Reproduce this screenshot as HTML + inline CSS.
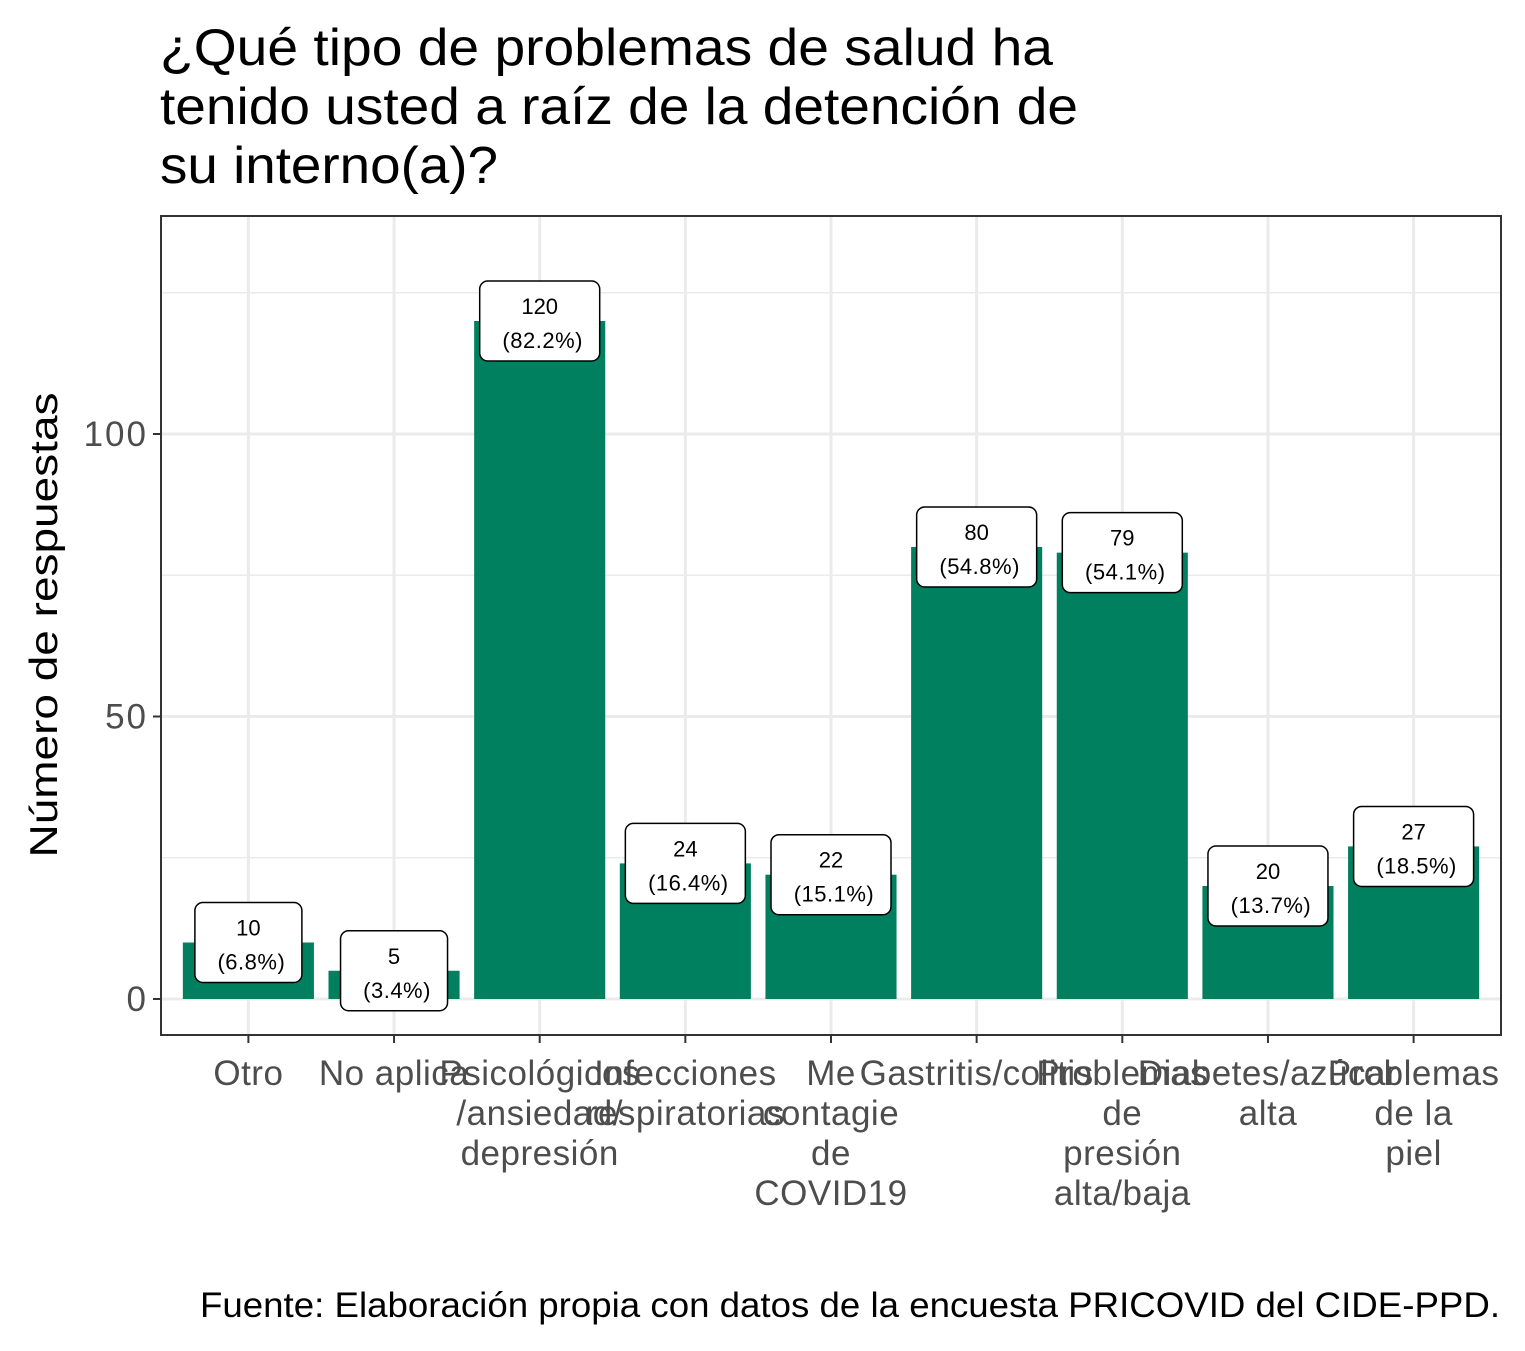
<!DOCTYPE html>
<html><head><meta charset="utf-8"><style>
body{margin:0;background:#fff;}
text{font-family:"Liberation Sans",Arial,sans-serif;}
</style></head><body>
<svg id="chart" width="1525" height="1346" xmlns="http://www.w3.org/2000/svg">
<g font-size="52" fill="#000">
<text x="160" y="65" textLength="893" lengthAdjust="spacingAndGlyphs">¿Qué tipo de problemas de salud ha</text>
<text x="160" y="124" textLength="918" lengthAdjust="spacingAndGlyphs">tenido usted a raíz de la detención de</text>
<text x="160" y="183" textLength="338" lengthAdjust="spacingAndGlyphs">su interno(a)?</text>
</g>
<rect x="161" y="216" width="1340" height="819" fill="#fff"/>
<g id="grid"></g>
<g id="bars"></g>
<rect x="161" y="216" width="1340" height="819" fill="none" stroke="#333" stroke-width="2"/>
<g id="axes"></g>
<text transform="translate(57,625) rotate(-90)" text-anchor="middle" font-size="39" fill="#000" textLength="465" lengthAdjust="spacingAndGlyphs">Número de respuestas</text>
<text x="1500" y="1317" text-anchor="end" font-size="35" fill="#000" textLength="1300" lengthAdjust="spacingAndGlyphs">Fuente: Elaboración propia con datos de la encuesta PRICOVID del CIDE-PPD.</text>
</svg>
<script>
const categories=[["Otro"],["No aplica"],["Psicológicos","/ansiedad/","depresión"],["Infecciones","respiratorias"],["Me","contagie","de","COVID19"],["Gastritis/colitis"],["Problemas","de","presión","alta/baja"],["Diabetes/azúcar","alta"],["Problemas","de la","piel"]];
const values=[10,5,120,24,22,80,79,20,27];
const percents=["6.8%","3.4%","82.2%","16.4%","15.1%","54.8%","54.1%","13.7%","18.5%"];
const majorTicks=[0,50,100];
const minorTicks=[25,75,125];
const NS="http://www.w3.org/2000/svg";
const x0=161,pw=1340,n=categories.length,step=pw/(n+0.2);
function xc(i){return x0+step*(0.6+i);}
function y(v){return 999-v*5.65;}
function mk(t,a,p){const e=document.createElementNS(NS,t);for(const k in a)e.setAttribute(k,a[k]);p.appendChild(e);return e;}
const grid=document.getElementById('grid'),bars=document.getElementById('bars'),axes=document.getElementById('axes');
minorTicks.forEach(v=>{const l=mk('line',{x1:161,x2:1501,y1:y(v),y2:y(v),stroke:'#ebebeb','stroke-width':1.5},grid);

});
majorTicks.forEach(v=>{const l=mk('line',{x1:161,x2:1501,y1:y(v),y2:y(v),stroke:'#ebebeb','stroke-width':3},grid);


const t=mk('text',{x:148,y:y(v)+12,'text-anchor':'end','font-size':35,'letter-spacing':2,fill:'#4d4d4d'},axes);t.textContent=v;


const tk=mk('line',{x1:153,x2:161,y1:y(v),y2:y(v),stroke:'#333','stroke-width':2},axes);

});
categories.forEach((c,i)=>{const cx=xc(i);
const g=mk('line',{x1:cx,x2:cx,y1:216,y2:1035,stroke:'#ebebeb','stroke-width':3},grid);


const bw=step*0.9;
const b=mk('rect',{x:cx-bw/2,y:y(values[i]),width:bw,height:999-y(values[i]),fill:'#00805e'},bars);


const s2='('+percents[i]+')';const w=Math.max(String(values[i]).length,s2.length)*13+29;
const by=y(values[i]);
const r=mk('rect',{x:cx-w/2,y:by-40,width:w,height:80,rx:8,fill:'#fff',stroke:'#000','stroke-width':1.5},bars);


const t1=mk('text',{x:cx,y:by-7,'text-anchor':'middle','font-size':22,fill:'#000'},bars);t1.textContent=values[i];


const t2=mk('text',{x:cx+3,y:by+27,'text-anchor':'middle','font-size':22,'letter-spacing':0.5,fill:'#000'},bars);t2.textContent=s2;


const tk=mk('line',{x1:cx,x2:cx,y1:1035,y2:1043,stroke:'#333','stroke-width':2},axes);


c.forEach((ln,j)=>{const t=mk('text',{x:cx,y:1085+j*40,'text-anchor':'middle','font-size':35,'letter-spacing':0.5,fill:'#4d4d4d'},axes);t.textContent=ln;

});});
</script>
</body></html>
